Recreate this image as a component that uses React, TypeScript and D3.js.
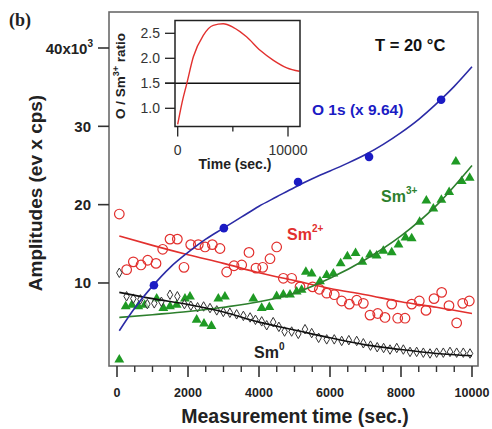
import React from "react";
import * as d3 from "d3";

// Sm 3d / O 1s amplitudes versus measurement time at T = 20 °C
const sm2Time = [65,272,460,676,865,1099,1287,1493,1700,1887,2076,2290,2479,2685,2901,3089,3296,3513,3718,3915,4104,4310,4498,4685,4920,5155,5510,5700,5907,6121,6329,6545,6752,6939,7127,7344,7549,7738,7907,8113,8301,8516,8704,8930,9146,9352,9568,9738,9924];
const sm2Amp = [18.8,11.7,12.7,12.3,12.9,12.5,14.3,15.6,15.6,12.0,14.9,14.9,14.6,14.9,14.4,11.4,12.2,12.3,13.9,11.9,12.0,13.1,14.6,10.6,10.6,9.5,9.5,9.2,8.7,8.5,7.7,7.3,7.8,7.4,5.9,6.1,5.6,7.3,5.5,5.5,7.3,7.7,6.5,8.0,8.8,7.1,4.9,7.4,7.7];

const sm3Time = [65,245,420,600,780,1118,1305,1493,1681,1915,2056,2244,2450,2660,2854,3040,3840,4076,4291,4498,4685,4873,5061,5200,5320,5484,5718,5907,6095,6300,6490,6720,6910,7127,7315,7502,7738,7930,8127,8301,8525,8714,8911,9137,9356,9545,9710,9934];
const sm3Amp = [0.2,7.0,7.2,7.0,7.2,8.0,6.8,7.0,7.2,8.0,8.25,5.3,4.8,4.5,8.0,8.25,8.0,6.8,6.9,8.3,8.5,8.5,8.9,9.1,11.4,11.2,10.2,11.0,11.2,12.5,13.4,13.8,12.7,13.6,13.5,14.1,13.9,14.9,15.8,15.7,17.8,20.5,19.5,20.6,21.6,25.5,23.0,23.4];

const sm0Time = [65,270,460,660,855,1050,1250,1493,1700,1900,2080,2270,2440,2620,2810,2995,3180,3370,3560,3750,3900,4076,4217,4400,4560,4720,4920,5107,5296,5484,5680,5907,6120,6329,6530,6752,6939,7140,7330,7510,7690,7880,8066,8254,8441,8629,8817,9004,9192,9380,9568,9755,9944];
const sm0Amp = [11.3,8.3,8.0,7.9,7.3,7.4,7.6,8.5,8.3,7.3,7.1,6.9,7.0,6.8,6.5,6.3,6.2,6.0,5.8,5.6,5.3,5.1,4.6,5.0,4.4,3.8,3.8,3.5,4.1,3.6,3.0,2.8,2.8,2.6,2.7,2.6,2.3,2.0,1.8,1.7,1.5,1.7,1.5,1.2,1.2,1.1,1.0,1.1,1.1,1.2,1.1,1.1,1.0];

const o1sTime = [1040, 3010, 5100, 7100, 9130];
const o1sAmp = [9.7, 17.0, 22.9, 26.1, 33.4];

// fitted curves
const fitTime = [65,1000,2000,3000,4000,5000,6000,7000,8000,9000,10000];
const sm2Fit = [16.0,14.8,13.6,12.5,11.3,10.3,9.3,8.5,7.6,6.9,6.1];
const sm3Fit = [5.6,5.95,6.35,6.9,7.6,8.7,10.6,13.0,16.0,19.9,25.0];
const sm0Fit = [8.8,8.0,7.25,6.3,5.0,4.0,3.0,2.1,1.5,1.0,0.7];
const o1sFitTime = [65,500,1000,1500,2000,2500,3000,3500,4000,4500,5000,5500,6000,6500,7000,7500,8000,8500,9000,9500,10000];
const o1sFit = [3.9,6.8,9.6,12.0,13.9,15.6,17.0,18.4,19.8,21.0,22.2,23.3,24.3,25.3,26.4,27.7,29.2,30.9,32.9,35.1,37.6];

// inset: O / Sm3+ ratio
const ratioTime = [0,400,820,1420,2320,3220,4130,5030,6240,7470,8680,9890,11040];
const ratioVal = [0.68,1.12,1.49,2.03,2.46,2.66,2.69,2.62,2.43,2.16,1.96,1.81,1.74];

const xMajor = [0, 2000, 4000, 6000, 8000, 10000];
const yMajor = [10, 20, 30, 40];
const insetYTicks = [1.0, 1.5, 2.0, 2.5];
const insetXTicks = [0, 10000];

const RED = "#e2302e";
const GREEN = "#1f9a24";
const GREEN_LINE = "#2d7f2d";
const BLUE = "#1b1bc4";
const BLUE_LINE = "#2b2ba6";
const FONT = "'Liberation Sans', Arial, Helvetica, sans-serif";

export default function App() {
  const frame = { left: 109, right: 478, top: 12, bottom: 366 };
  const x = d3.scaleLinear().domain([0, 10000]).range([117, 472]);
  const y = d3.scaleLinear().domain([0, 40]).range([361.3, 48]);

  const inset = { left: 175, right: 300, top: 20.5, bottom: 126.5 };
  const ix = d3.scaleLinear().domain([0, 10000]).range([177.7, 288]);
  const iy = d3.scaleLinear().domain([1, 2.5]).range([108.3, 33.3]);

  const fitLine = (ts: number[], vs: number[]) =>
    d3.line<number>().x((_, i) => x(ts[i])).y((v) => y(v)).curve(d3.curveMonotoneX)(vs) || "";

  const ratioPath =
    d3.line<number>().x((_, i) => ix(ratioTime[i])).y((v) => iy(v)).curve(d3.curveMonotoneX)(ratioVal) || "";

  const xMinor = d3.range(0, 10001, 500).filter((t) => t % 2000 !== 0);
  const tri = d3.symbol().type(d3.symbolTriangle).size(42)() || "";
  const dia = d3.symbol().type(d3.symbolDiamond).size(26)() || "";

  return (
    <svg
      width={492}
      height={429}
      style={{ position: "absolute", left: 0, top: 0, background: "#fff" }}
      fontFamily={FONT}
    >
      <rect x={0} y={0} width={492} height={429} fill="#fff" />

      {/* panel label */}
      <text x={9} y={26} fontFamily="'Liberation Serif', 'Times New Roman', serif" fontWeight="bold" fontSize={18} fill="#222">
        (b)
      </text>

      {/* main frame */}
      <rect
        x={frame.left}
        y={frame.top}
        width={frame.right - frame.left}
        height={frame.bottom - frame.top}
        fill="none"
        stroke="#6a6a6a"
        strokeWidth={1.6}
      />

      {/* x axis ticks */}
      {xMajor.map((t) => (
        <g key={"xm" + t}>
          <line x1={x(t)} x2={x(t)} y1={frame.bottom} y2={frame.bottom + 11} stroke="#333" strokeWidth={1.6} />
          <text x={x(t)} y={397} textAnchor="middle" fontSize={12.5} fontWeight="bold" fill="#222">
            {t}
          </text>
        </g>
      ))}
      {xMinor.map((t) => (
        <line key={"xn" + t} x1={x(t)} x2={x(t)} y1={frame.bottom} y2={frame.bottom + 6} stroke="#333" strokeWidth={1.4} />
      ))}
      <text x={295} y={423} textAnchor="middle" fontSize={19.5} fontWeight="bold" fill="#222">
        Measurement time (sec.)
      </text>

      {/* y axis ticks */}
      {yMajor.map((v) => (
        <g key={"ym" + v}>
          <line x1={frame.left - 11} x2={frame.left} y1={y(v)} y2={y(v)} stroke="#333" strokeWidth={1.6} />
          {v === 40 ? (
            <text x={93} y={y(v) + 5.5} textAnchor="end" fontSize={15} fontWeight="bold" fill="#222">
              40x10
              <tspan fontSize={10} dy={-7}>3</tspan>
            </text>
          ) : (
            <text x={91} y={y(v) + 5.5} textAnchor="end" fontSize={15} fontWeight="bold" fill="#222">
              {v}
            </text>
          )}
        </g>
      ))}
      <text
        transform="translate(42,193) rotate(-90)"
        textAnchor="middle"
        fontSize={19}
        fontWeight="bold"
        fill="#222"
      >
        Amplitudes (ev x cps)
      </text>

      {/* Sm2+ open circles */}
      {sm2Amp.map((v, i) => (
        <circle key={"r" + i} cx={x(sm2Time[i])} cy={y(v)} r={4.8} fill="none" stroke={RED} strokeWidth={1.2} />
      ))}

      {/* Sm3+ filled triangles */}
      {sm3Amp.map((v, i) => (
        <path key={"g" + i} d={tri} transform={`translate(${x(sm3Time[i])},${y(v)})`} fill={GREEN} />
      ))}

      {/* Sm0 open diamonds */}
      {sm0Amp.map((v, i) => (
        <path key={"k" + i} d={dia} transform={`translate(${x(sm0Time[i])},${y(v)})`} fill="#fff" fillOpacity={0.6} stroke="#333" strokeWidth={1} />
      ))}

      {/* fits */}
      <path d={fitLine(fitTime, sm2Fit)} fill="none" stroke={RED} strokeWidth={1.6} />
      <path d={fitLine(fitTime, sm3Fit)} fill="none" stroke={GREEN_LINE} strokeWidth={1.6} />
      <path d={fitLine(fitTime, sm0Fit)} fill="none" stroke="#111" strokeWidth={1.6} />
      <path d={fitLine(o1sFitTime, o1sFit)} fill="none" stroke={BLUE_LINE} strokeWidth={1.6} />

      {/* O 1s filled circles */}
      {o1sAmp.map((v, i) => (
        <circle key={"b" + i} cx={x(o1sTime[i])} cy={y(v)} r={4.3} fill={BLUE} />
      ))}

      {/* series labels */}
      <text x={375} y={51} fontSize={16.5} fontWeight="bold" fill="#111">
        T = 20 °C
      </text>
      <text x={312} y={115} fontSize={15.5} fontWeight="bold" fill={BLUE}>
        O 1s (x 9.64)
      </text>
      <text x={381} y={202} fontSize={16} fontWeight="bold" fill={GREEN_LINE}>
        Sm<tspan fontSize={10} dy={-8}>3+</tspan>
      </text>
      <text x={287} y={240} fontSize={16} fontWeight="bold" fill={RED}>
        Sm<tspan fontSize={10} dy={-8}>2+</tspan>
      </text>
      <text x={254} y={358} fontSize={16} fontWeight="bold" fill="#222">
        Sm<tspan fontSize={10} dy={-8}>0</tspan>
      </text>

      {/* inset */}
      <rect x={inset.left} y={inset.top} width={inset.right - inset.left} height={inset.bottom - inset.top} fill="#fff" />
      <line x1={inset.left - 10} x2={inset.right} y1={iy(1.5)} y2={iy(1.5)} stroke="#111" strokeWidth={1.5} />
      <path d={ratioPath} fill="none" stroke={RED} strokeWidth={1.4} />
      <rect
        x={inset.left}
        y={inset.top}
        width={inset.right - inset.left}
        height={inset.bottom - inset.top}
        fill="none"
        stroke="#222"
        strokeWidth={1.5}
      />
      {insetYTicks.map((v) => (
        <g key={"iy" + v}>
          <line x1={inset.left - 10} x2={inset.left} y1={iy(v)} y2={iy(v)} stroke="#222" strokeWidth={1.3} />
          <text x={160} y={iy(v) + 5} textAnchor="end" fontSize={14} fill="#333">
            {v.toFixed(1)}
          </text>
        </g>
      ))}
      {insetXTicks.map((t) => (
        <g key={"ix" + t}>
          <line x1={ix(t)} x2={ix(t)} y1={inset.bottom} y2={inset.bottom + 10} stroke="#222" strokeWidth={1.3} />
          <text x={ix(t)} y={155} textAnchor="middle" fontSize={14} fill="#333">
            {t}
          </text>
        </g>
      ))}
      <line x1={ix(5000)} x2={ix(5000)} y1={inset.bottom} y2={inset.bottom + 5} stroke="#222" strokeWidth={1.3} />
      <text x={235} y={169} textAnchor="middle" fontSize={14} fontWeight="bold" fill="#222">
        Time (sec.)
      </text>
      <text transform="translate(125,76) rotate(-90)" textAnchor="middle" fontSize={13.5} fontWeight="bold" fill="#222">
        O / Sm<tspan fontSize={9} dy={-6}>3+</tspan>
        <tspan dy={6}> ratio</tspan>
      </text>
    </svg>
  );
}
